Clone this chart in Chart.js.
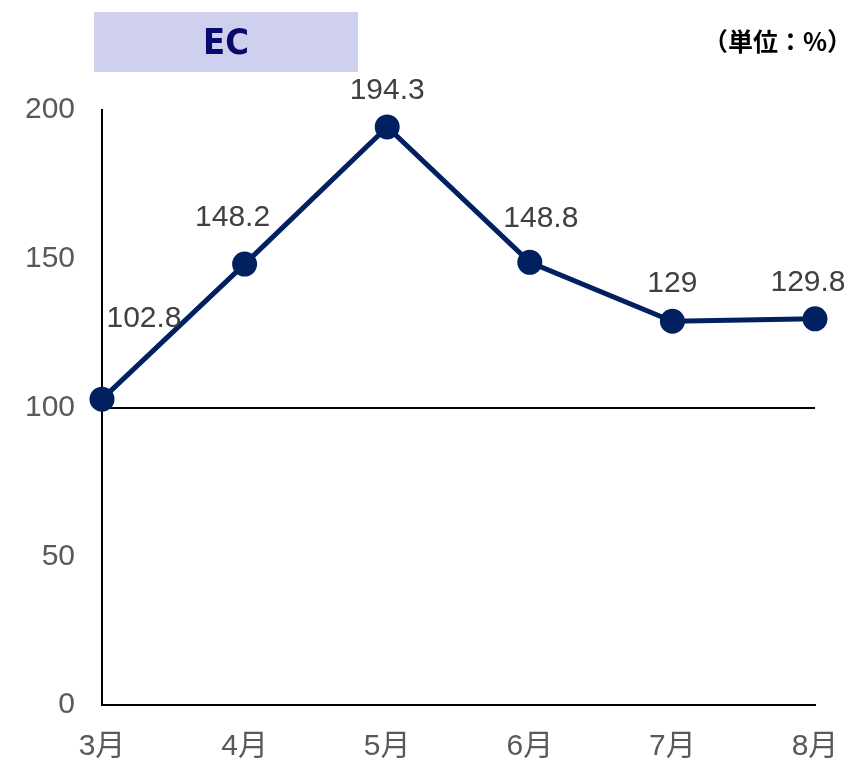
<!DOCTYPE html>
<html>
<head>
<meta charset="utf-8">
<script src="https://cdn.jsdelivr.net/npm/chart.js@4"></script>
<style>
  body { margin: 0; background: #fff; }
  #chart { display: block; }
</style>
</head>
<body>
<canvas id="chart" width="852" height="760"></canvas>
<script>
const months = ["3月", "4月", "5月", "6月", "7月", "8月"];
const ecValues = [102.8, 148.2, 194.3, 148.8, 129, 129.8];
const yTicks = [0, 50, 100, 150, 200];

const chartTitle = "EC";
const unitText = "（単位：%）";

// where each value label sits relative to its point (px)
const labelOffsets = [[42, -80], [-12, -46], [0, -36], [11, -44], [0, -37], [-7, -36]];

const lineColor = "#002060";

const extras = {
  id: "extras",
  afterDraw(chart) {
    const ctx = chart.ctx;
    const xs = chart.scales.x;
    const ys = chart.scales.y;

    // title box
    ctx.save();
    ctx.fillStyle = "#CFCFEE";
    ctx.fillRect(94, 12, 264, 60);
    ctx.fillStyle = "#0A0A6E";
    ctx.font = 'bold 36px "Liberation Sans Narrow", "DejaVu Sans Condensed", sans-serif';
    ctx.textAlign = "center";
    ctx.textBaseline = "middle";
    ctx.fillText(chartTitle, 226, 45);

    // unit
    ctx.fillStyle = "#000";
    ctx.font = 'bold 25px "Noto Sans CJK JP", sans-serif';
    ctx.textAlign = "right";
    ctx.fillText(unitText, 852, 41);

    // value labels
    ctx.fillStyle = "#404040";
    ctx.font = '30px "Liberation Sans", Arial, sans-serif';
    ctx.textAlign = "center";
    ecValues.forEach((v, i) => {
      const px = xs.getPixelForValue(i);
      const py = ys.getPixelForValue(v);
      ctx.fillText(String(v), px + labelOffsets[i][0], py + labelOffsets[i][1]);
    });
    ctx.restore();
  }
};

new Chart(document.getElementById("chart"), {
  type: "line",
  data: {
    labels: months,
    datasets: [{
      label: chartTitle,
      data: ecValues,
      borderColor: lineColor,
      backgroundColor: lineColor,
      borderWidth: 5,
      pointRadius: 10,
      pointHoverRadius: 10,
      tension: 0
    }]
  },
  options: {
    responsive: false,
    animation: false,
    layout: { padding: { left: 0, top: 110, right: 37, bottom: 0 } },
    plugins: {
      legend: { display: false },
      tooltip: { enabled: false }
    },
    scales: {
      x: {
        offset: false,
        grid: { display: false, drawTicks: false },
        border: { color: "#000", width: 2 },
        ticks: {
          color: "#595959",
          font: { family: '"Liberation Sans", "Noto Sans CJK JP", sans-serif', size: 30 },
          padding: 24,
          maxRotation: 0
        },
        afterFit(scale) {
          scale.height = 55;
          scale.paddingLeft = 0;
          scale.paddingRight = 0;
        }
      },
      y: {
        min: 0,
        max: 200,
        afterBuildTicks(scale) { scale.ticks = yTicks.map(v => ({ value: v })); },
        grid: {
          drawTicks: false,
          lineWidth: 2,
          color: c => (c.tick && c.tick.value === 100 ? "#000" : "rgba(0,0,0,0)")
        },
        border: { color: "#000", width: 2 },
        ticks: {
          color: "#595959",
          font: { family: '"Liberation Sans", Arial, sans-serif', size: 30 },
          padding: 27
        },
        afterFit(scale) { scale.width = 102; }
      }
    }
  },
  plugins: [extras]
});
</script>
</body>
</html>
